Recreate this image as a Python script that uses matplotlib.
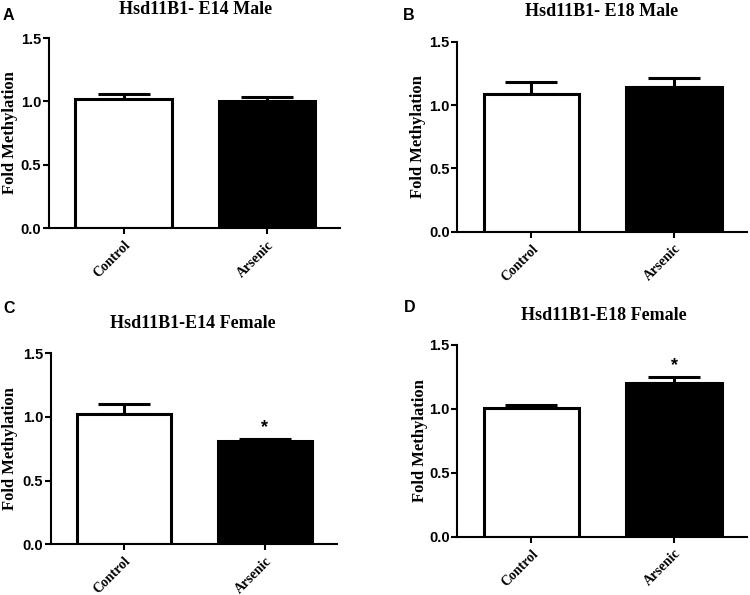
import matplotlib
matplotlib.use("Agg")
import matplotlib.pyplot as plt

groups = ["Control", "Arsenic"]
titles = ["Hsd11B1- E14 Male", "Hsd11B1- E18 Male", "Hsd11B1-E14 Female", "Hsd11B1-E18 Female"]
letters = ["A", "B", "C", "D"]
means_a = [1.02, 1.00]
means_b = [1.09, 1.145]
means_c = [1.02, 0.815]
means_d = [1.005, 1.20]
errs_a = [0.035, 0.035]
errs_b = [0.09, 0.065]
errs_c = [0.08, 0.015]
errs_d = [0.027, 0.05]
signif = [[False, False], [False, False], [False, True], [False, True]]
yticks = [0.0, 0.5, 1.0, 1.5]

means = [means_a, means_b, means_c, means_d]
errs = [errs_a, errs_b, errs_c, errs_d]

fig = plt.figure(figsize=(7.5, 5.95), dpi=100)

# axes boxes in figure fraction [left, bottom, width, height]
boxes = [
    [0.0653, 0.6168, 0.388, 0.3193],
    [0.6098, 0.6106, 0.3858, 0.3193],
    [0.068, 0.0852, 0.381, 0.321],
    [0.6098, 0.098, 0.3858, 0.3222],
]
title_pos = [(196, 9), (602, 12), (193, 324), (604, 316)]
letter_pos = [(3, 15), (403, 15), (3, 308), (404, 307)]
ylabel_x = [-0.134, -0.137, -0.145, -0.129]

serif = "Liberation Serif"
sans = "Liberation Sans"

for i in range(4):
    ax = fig.add_axes(boxes[i])
    x = list(range(len(groups)))
    ax.bar(x, means[i], width=0.67, color=["white", "black"], edgecolor="black",
           linewidth=2.2, zorder=2)
    for j in x:
        ax.errorbar(j, means[i][j], yerr=[[0], [errs[i][j]]], fmt="none",
                    ecolor="black", elinewidth=2.2, capsize=19, capthick=2.2, zorder=1)
        if signif[i][j]:
            ax.text(j, means[i][j] + errs[i][j] + 0.02, "*", ha="center", va="bottom",
                    fontsize=13, fontweight="bold", family=sans)
    ax.set_xlim(-0.52, 1.51)
    ax.set_ylim(0, 1.5)
    ax.set_yticks(yticks)
    ax.set_yticklabels([f"{v:.1f}" for v in yticks], fontsize=10.5,
                       fontweight="bold", family=sans)
    ax.set_xticks(x)
    ax.set_xticklabels(groups, rotation=45, ha="right", rotation_mode="anchor",
                       fontsize=10, fontweight="bold", family=serif)
    ax.spines["top"].set_visible(False)
    ax.spines["right"].set_visible(False)
    ax.spines["left"].set_linewidth(1.5)
    ax.spines["bottom"].set_linewidth(1.5)
    ax.tick_params(axis="both", width=1.5, length=4, direction="out")
    ax.tick_params(axis="y", pad=1.5)
    ax.set_ylabel("Fold Methylation", fontsize=12, fontweight="bold", family=serif)
    ax.yaxis.label.set_verticalalignment("center")
    ax.yaxis.set_label_coords(ylabel_x[i], 0.5)

    tx, ty = title_pos[i]
    fig.text(tx / 750, 1 - ty / 595, titles[i], ha="center", va="center",
             fontsize=13, fontweight="bold", family=serif)
    lx, ly = letter_pos[i]
    fig.text(lx / 750, 1 - ly / 595, letters[i], ha="left", va="center",
             fontsize=11.5, fontweight="bold", family=sans)

fig.savefig("out.png", dpi=100)
